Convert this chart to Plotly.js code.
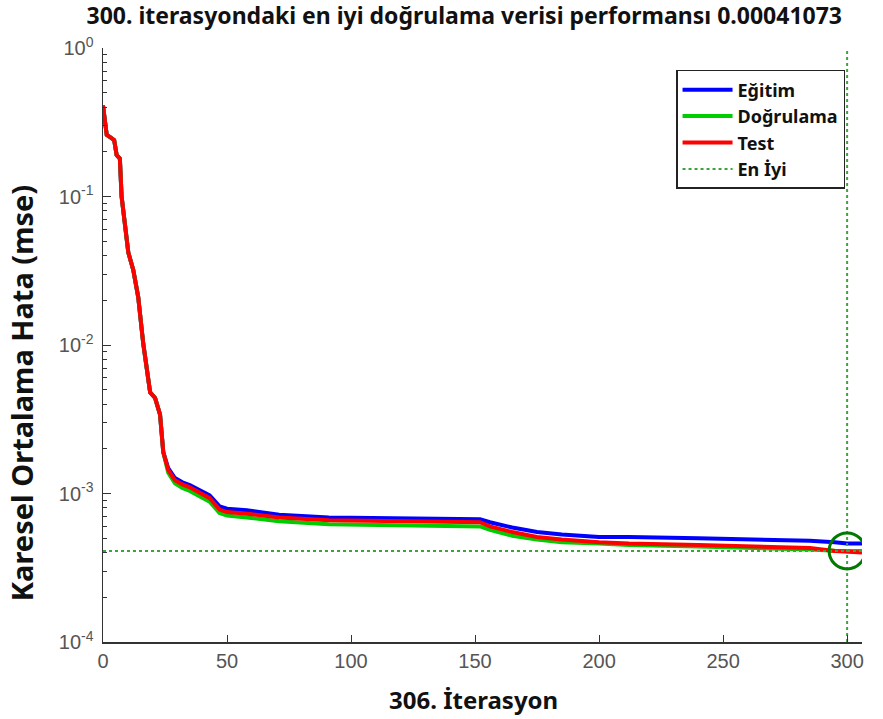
<!DOCTYPE html>
<html>
<head>
<meta charset="utf-8">
<script src="https://cdn.plot.ly/plotly-3.0.1.min.js"></script>
<style>html,body{margin:0;padding:0;background:#fff;}#chart{width:883px;height:719px;}</style>
</head>
<body>
<div id="chart"></div>
<script>
const iterations = [0,1,1.5,3,4.5,5.5,6.8,7.5,9,10.2,12.2,14.2,16.2,18,19,21,23,24.3,26.3,29,32,35,40,43,47,50,58,71,91,118,152,156,165,175,185,200,212,240,270,285,295,300,306];
const trainMse = [0.41,0.30,0.26,0.25,0.24,0.19,0.18,0.10,0.065,0.042,0.032,0.021,0.0103,0.0065,0.0048,0.0044,0.0034,0.0019,0.00148,0.00127,0.00119,0.00114,0.00102,0.00097,0.00082,0.00079,0.00077,0.00072,0.00069,0.00068,0.00067,0.00064,0.00059,0.00055,0.00053,0.00051,0.00051,0.0005,0.00049,0.00048,0.00047,0.00046,0.00046];
const validMse = [0.41,0.30,0.26,0.25,0.24,0.19,0.18,0.10,0.065,0.042,0.032,0.021,0.0103,0.0065,0.0048,0.0044,0.0034,0.0019,0.00138,0.00117,0.00109,0.00104,0.00093,0.00088,0.00074,0.00071,0.00069,0.00065,0.00062,0.00061,0.0006,0.00057,0.00052,0.00049,0.00047,0.00046,0.00045,0.00044,0.00043,0.00042,0.000412,0.00041073,0.00041];
const testMse = [0.41,0.30,0.26,0.25,0.24,0.19,0.18,0.10,0.065,0.042,0.032,0.021,0.0103,0.0065,0.0048,0.0044,0.0034,0.0019,0.00144,0.00123,0.00115,0.0011,0.00098,0.00093,0.00078,0.00075,0.00073,0.00069,0.00066,0.00065,0.00064,0.0006,0.00055,0.00051,0.00049,0.00047,0.00046,0.00045,0.00044,0.00043,0.00041,0.000405,0.0004];
const bestEpoch = 300;
const bestPerf = 0.00041073;
const totalEpochs = 306;
const seriesNames = ['Eğitim','Doğrulama','Test','En İyi'];
const yTickVals = [1e-4,1e-3,1e-2,1e-1,1];
const yTickText = ['10<sup>-4</sup>','10<sup>-3</sup>','10<sup>-2</sup>','10<sup>-1</sup>','10<sup>0</sup>'];
const yMinorTickVals = [2e-4,3e-4,4e-4,5e-4,6e-4,7e-4,8e-4,9e-4,2e-3,3e-3,4e-3,5e-3,6e-3,7e-3,8e-3,9e-3,2e-2,3e-2,4e-2,5e-2,6e-2,7e-2,8e-2,9e-2,0.2,0.3,0.4,0.5,0.6,0.7,0.8,0.9];
const xTickVals = [0,50,100,150,200,250,300];
const yTitle = 'Karesel Ortalama Hata (mse)';
const xTitle = totalEpochs + '. İterasyon';

const traces = [
  {x: iterations, y: trainMse, name: seriesNames[0], mode:'lines', line:{color:'#0000ff', width:4}},
  {x: iterations, y: validMse, name: seriesNames[1], mode:'lines', line:{color:'#00cc00', width:4}},
  {x: iterations, y: testMse, name: seriesNames[2], mode:'lines', line:{color:'#ff0000', width:4}},
  {x: [0, totalEpochs], y: [bestPerf, bestPerf], name: seriesNames[3], mode:'lines', line:{color:'#3aa63a', width:2, dash:'dot'}},
  {x: [bestEpoch, bestEpoch], y: [1e-4, 1], mode:'lines', showlegend:false, line:{color:'#3aa63a', width:2, dash:'dot'}},
  {x: [bestEpoch], y: [bestPerf], mode:'markers', showlegend:false, marker:{symbol:'circle-open', size:36, color:'#007a00', line:{width:3, color:'#007a00'}}}
];

const layout = {
  width: 883, height: 719,
  margin: {l:103, r:21, t:48, b:77},
  paper_bgcolor:'#fff', plot_bgcolor:'#fff',
  title: {text: bestEpoch + '. iterasyondaki en iyi doğrulama verisi performansı ' + bestPerf, font:{family:'Noto Sans', size:23, color:'#111', weight:'bold'}, x:0.476, xref:'paper', xanchor:'center', y:0.978, yanchor:'middle'},
  showlegend: true,
  legend: {x:0.755, y:0.963, xanchor:'left', yanchor:'top', bgcolor:'#fff', bordercolor:'#222', borderwidth:1.5, font:{family:'Noto Sans', size:18, color:'#111', weight:'bold'}, tracegroupgap:0, itemwidth:50},
  xaxis: {range:[0, totalEpochs], tickvals: xTickVals, ticks:'inside', ticklen:7, tickcolor:'#333', showline:true, linecolor:'#333', linewidth:1.5, showgrid:false, zeroline:false,
    tickfont:{family:'Liberation Sans', size:20, color:'#555'}},
  yaxis: {type:'log', range:[-4, 0], tickvals: yTickVals, ticktext: yTickText, ticks:'inside', ticklen:8, tickcolor:'#333', showline:true, linecolor:'#333', linewidth:1.5, showgrid:false, zeroline:false,
    minor:{tickmode:'array', tickvals: yMinorTickVals, ticks:'inside', ticklen:4, tickcolor:'#333', showgrid:false},
    ticklabelstandoff: 4,
    tickfont:{family:'Liberation Sans', size:20, color:'#555'}},
  annotations: [
    {text: yTitle, xref:'paper', yref:'paper', x:-0.108, y:0.419, xanchor:'center', yanchor:'middle', textangle:-90, showarrow:false, font:{family:'Noto Sans', size:29, color:'#111', weight:'bold'}},
    {text: xTitle, xref:'paper', yref:'paper', x:0.4875, y:-0.0976, xanchor:'center', yanchor:'middle', showarrow:false, font:{family:'Noto Sans', size:24, color:'#111', weight:'bold'}}
  ]
};

Plotly.newPlot('chart', traces, layout, {displayModeBar:false, staticPlot:true});
</script>
</body>
</html>
